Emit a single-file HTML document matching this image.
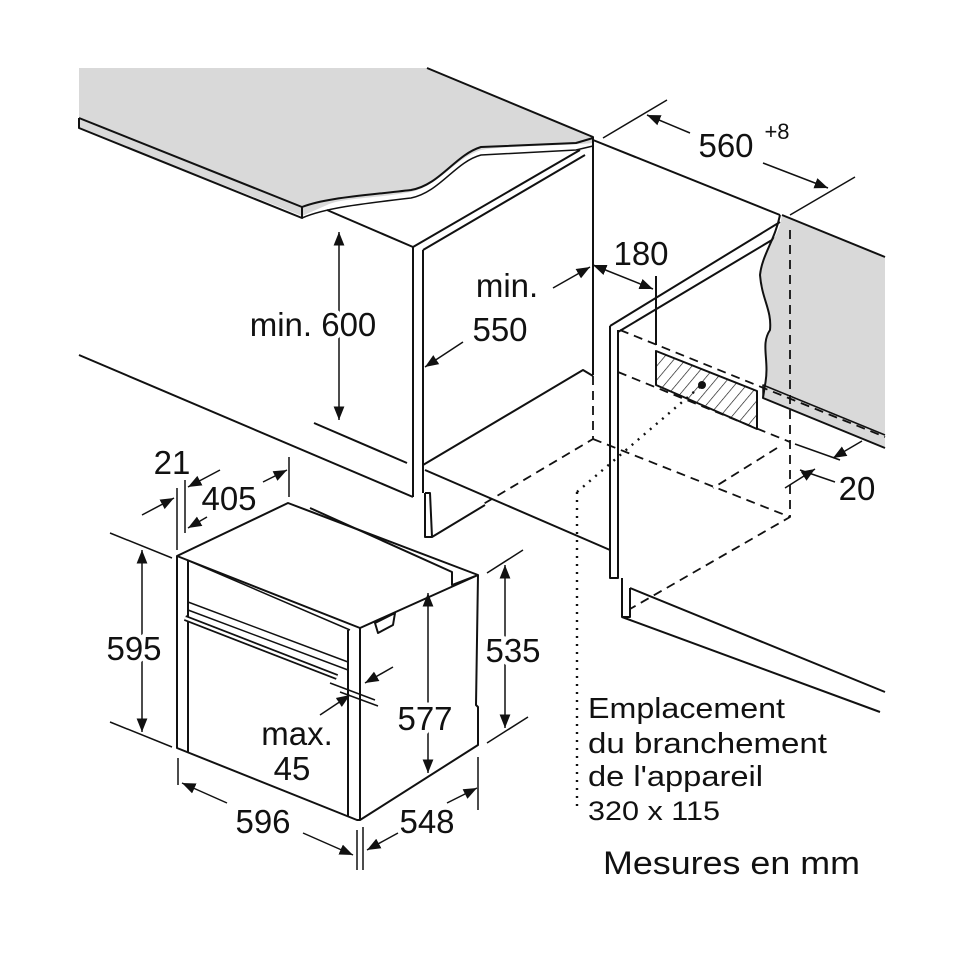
<!DOCTYPE html>
<html><head><meta charset="utf-8"><style>
html,body{margin:0;padding:0;background:#fff}
svg{display:block}
text{font-family:"Liberation Sans",sans-serif;fill:#111}
.d text{stroke:#fff;stroke-width:9;paint-order:stroke;stroke-linejoin:round}
</style></head><body>
<svg width="970" height="971" viewBox="0 0 970 971" xmlns="http://www.w3.org/2000/svg">
<defs>
<marker id="a" viewBox="0 0 10 10" refX="10" refY="5" markerWidth="9" markerHeight="9" orient="auto-start-reverse"><path d="M0,1 L10,5 L0,9 Z" fill="#111"/></marker>
<pattern id="h" width="9" height="9" patternUnits="userSpaceOnUse" patternTransform="rotate(40)"><line x1="0" y1="0" x2="0" y2="9" stroke="#111" stroke-width="1.3"/></pattern>
</defs>
<g stroke="#111" stroke-width="2" fill="none" stroke-linejoin="round">
<path d="M79,68 L427,68 L593,137 L593,143 C560,146 500,146 481,150 C455,158 440,185 411,192 C380,198 340,198 327,205 L302,216 L79,128 Z" fill="#d9d9d9" stroke="none"/>
<path d="M79,118 L302,207 C325,198 360,196 411,190 C440,185 455,155 481,147 L576,143 L593,138" fill="none"/>
<path d="M79,118 L79,128 L302,218 L302,207" fill="none"/>
<path d="M302,218 C325,208 360,204 411,198 C440,192 455,162 481,155 L576,150 L593,146" fill="none" stroke-width="1.5"/>
<path d="M427,68 L593,137 L593,146"/>
<path d="M327,210 L413,247"/>
<path d="M413,247 L413,497 M423,250 L423,493"/>
<path d="M413,247 L580,150 M423,250 L585,155"/>
<path d="M593,140 L593,375"/>
<path d="M79,355 L413,497"/>
<path d="M314,423 L407,463"/>
<path d="M423,465 L583,370 L593,376"/>
<path d="M425,470 L610,550"/>
<path d="M425,493 L430,493 L432,537 L485,505"/>
<path d="M425,493 L425,537 L432,537"/>
<path d="M593,140 L780,215"/>
<path d="M610,326 L610,578 L618,578 L618,330 M610,326 L780,222 M618,332 L782,234"/>
<path d="M622,578 L622,617 L630,617 L630,588 M622,617 L880,712 M630,588 L885,692"/>
<path d="M782,215 L885,257 L885,448 L763,398 L765,385 C770,360 760,345 770,330 C772,310 762,300 760,275 C762,255 775,240 780,225 Z" fill="#d9d9d9" stroke="none"/>
<path d="M780,215 C775,240 762,255 760,275 C762,300 772,310 770,330 C760,345 770,360 765,385 L763,398 L885,448"/>
<path d="M763,398 L763,385 L885,435" stroke-width="1.5"/>
<path d="M782,215 L885,257"/>
<g stroke-dasharray="9,6" stroke-width="1.8">
<path d="M620,330 L885,437"/>
<path d="M790,230 L790,517"/>
<path d="M593,376 L593,439 L480,506"/>
<path d="M593,439 L790,517 L630,609"/>
<path d="M618,372 L790,442"/>
<path d="M777,448 L713,488"/>
</g>
<g stroke-dasharray="2,6" stroke-width="2.4">
<path d="M577,492 L577,810"/>
<path d="M577,492 L702,385"/>
</g>
<path d="M656,351 L656,385 L757,429 L757,391 Z" fill="url(#h)"/>
<circle cx="702" cy="385" r="3" fill="#111"/>
<path d="M656,276 L656,345"/>
<path d="M603,138 L667,100 M790,215 L855,177" stroke-width="1.5"/>
<path d="M690,133 L647,115" marker-end="url(#a)" stroke-width="1.5"/>
<path d="M763,163 L828,188" marker-end="url(#a)" stroke-width="1.5"/>
<path d="M593,265 L653,289" marker-start="url(#a)" marker-end="url(#a)" stroke-width="1.5"/>
<path d="M553,288 L590,267" marker-end="url(#a)" stroke-width="1.5"/>
<path d="M463,342 L425,367" marker-end="url(#a)" stroke-width="1.5"/>
<path d="M339,232 L339,420" marker-start="url(#a)" marker-end="url(#a)" stroke-width="1.5"/>
<path d="M795,444 L840,460 M800,470 L835,482" stroke-width="1.5"/>
<path d="M862,441 L833,458" marker-end="url(#a)" stroke-width="1.5"/>
<path d="M785,488 L815,469" marker-end="url(#a)" stroke-width="1.5"/>
<path d="M177,556 L288,503 L478,575 L360,628 Z" fill="#fff"/>
<path d="M310,508 L452,572 L452,585 L478,575"/>
<path d="M177,556 L177,748 L357,820 L360,820 L478,745 L478,707 L476,705 L478,575"/>
<path d="M188,560 L188,752 M348,630 L348,817 M360,628 L360,820"/>
<path d="M187,560 L350,630 M188,602 L348,662 M188,610 L348,670" stroke-width="1.5"/>
<path d="M185,618 L337,677" stroke-width="6"/>
<path d="M185,618 L337,677" stroke="#fff" stroke-width="2.5"/>
<path d="M375,623 L395,613 L393,625 L378,633 Z"/>
<g stroke-width="1.5">
<path d="M110,533 L172,558 M110,722 L172,747"/>
<path d="M142,550 L142,732" marker-start="url(#a)" marker-end="url(#a)"/>
<path d="M487,573 L523,550 M487,743 L528,717"/>
<path d="M505,565 L505,728" marker-start="url(#a)" marker-end="url(#a)"/>
<path d="M428,593 L428,773" marker-start="url(#a)" marker-end="url(#a)"/>
<path d="M330,683 L375,700 M340,692 L378,706"/>
<path d="M393,667 L365,683" marker-end="url(#a)"/>
<path d="M320,715 L350,695" marker-end="url(#a)"/>
<path d="M178,758 L178,785 M357,830 L357,870 M363,827 L363,870 M478,757 L478,810"/>
<path d="M227,803 L182,783" marker-end="url(#a)"/>
<path d="M303,833 L353,855" marker-end="url(#a)"/>
<path d="M447,803 L477,788" marker-end="url(#a)"/>
<path d="M398,833 L367,850" marker-end="url(#a)"/>
<path d="M177,488 L177,550 M185,480 L185,533 M289,457 L289,497"/>
<path d="M142,515 L174,498" marker-end="url(#a)"/>
<path d="M220,470 L188,487" marker-end="url(#a)"/>
<path d="M263,482 L287,470" marker-end="url(#a)"/>
<path d="M207,517 L188,528" marker-end="url(#a)"/>
</g>
</g>
<g font-size="33" text-anchor="middle" class="d">
<text x="313" y="336">min. 600</text>
<text x="507" y="297">min.</text>
<text x="500" y="341">550</text>
<text x="726" y="157">560</text>
<text x="777" y="139" font-size="22">+8</text>
<text x="641" y="265">180</text>
<text x="857" y="500">20</text>
<text x="172" y="474">21</text>
<text x="229" y="510">405</text>
<text x="134" y="660">595</text>
<text x="513" y="662">535</text>
<text x="425" y="730">577</text>
<text x="297" y="745">max.</text>
<text x="292" y="780">45</text>
<text x="263" y="833">596</text>
<text x="427" y="833">548</text>
</g>
<g font-size="29">
<text x="588" y="718" textLength="197" lengthAdjust="spacingAndGlyphs">Emplacement</text>
<text x="588" y="753" textLength="239" lengthAdjust="spacingAndGlyphs">du branchement</text>
<text x="588" y="786" textLength="175" lengthAdjust="spacingAndGlyphs">de l'appareil</text>
<text x="588" y="820" font-size="27" textLength="132" lengthAdjust="spacingAndGlyphs">320 x 115</text>
<text x="603" y="874" font-size="32" textLength="257" lengthAdjust="spacingAndGlyphs">Mesures en mm</text>
</g>
</svg>
</body></html>
